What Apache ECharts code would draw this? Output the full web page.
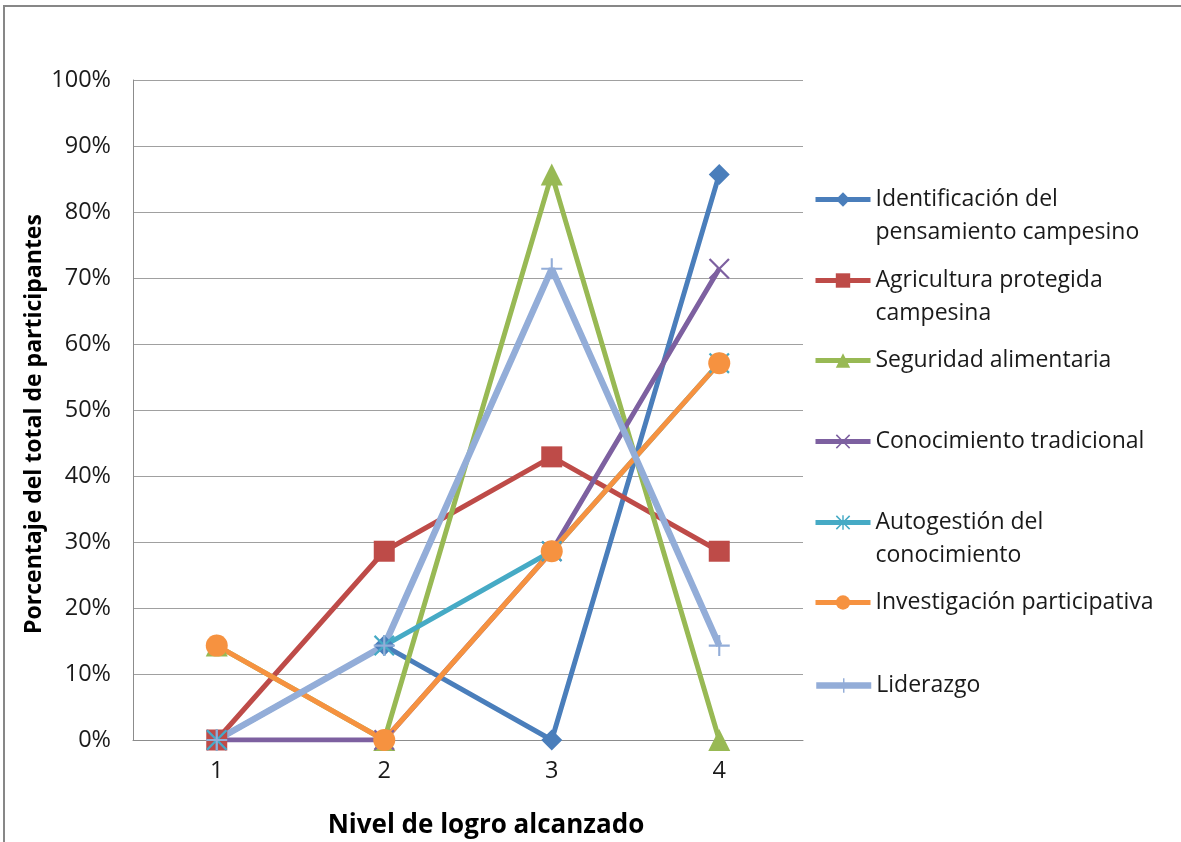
<!DOCTYPE html>
<html><head><meta charset="utf-8">
<script src="https://cdn.jsdelivr.net/npm/echarts@6/dist/echarts.min.js"></script>
<style>html,body{margin:0;padding:0;background:#fff}#c{width:1181px;height:842px}</style>
</head><body><div id="c"></div>
<script>
const categories = ['1', '2', '3', '4'];
const seriesNames = [
  'Identificación del pensamiento campesino',
  'Agricultura protegida campesina',
  'Seguridad alimentaria',
  'Conocimiento tradicional',
  'Autogestión del conocimiento',
  'Investigación participativa',
  'Liderazgo'
];
const legendLabels = [
  'Identificación del\npensamiento campesino',
  'Agricultura protegida\ncampesina',
  'Seguridad alimentaria',
  'Conocimiento tradicional',
  'Autogestión del\nconocimiento',
  'Investigación participativa',
  'Liderazgo'
];
const identificacion = [0, 14.3, 0, 85.7];
const agricultura = [0, 28.6, 42.9, 28.6];
const seguridad = [14.3, 0, 85.7, 0];
const conocimiento = [0, 0, 28.6, 71.4];
const autogestion = [0, 14.3, 28.6, 57.1];
const investigacion = [14.3, 0, 28.6, 57.1];
const liderazgo = [0, 14.3, 71.4, 14.3];
const yTicks = [0, 10, 20, 30, 40, 50, 60, 70, 80, 90, 100];

const allData = [identificacion, agricultura, seguridad, conocimiento, autogestion, investigacion, liderazgo];
const colors = ['#4A7EBB', '#BE4B48', '#98B954', '#7D60A0', '#46AAC5', '#F69240', '#93ADD8'];
const X_PATH = 'path://M0,1.5 L1.5,0 L10,8.5 L18.5,0 L20,1.5 L11.5,10 L20,18.5 L18.5,20 L10,11.5 L1.5,20 L0,18.5 L8.5,10 Z';
const STAR_PATH = X_PATH + ' M9,0 L11,0 L11,20 L9,20 Z';
const PLUS_PATH = 'path://M0,9 L20,9 L20,11 L0,11 Z M9,0 L11,0 L11,20 L9,20 Z';
const symbols = ['diamond', 'rect', 'triangle', X_PATH, STAR_PATH, 'circle', PLUS_PATH];
const symbolSizes = [21, 21, 22, 21, 21, 22, 21];
const widths = [5, 5, 5, 5, 5, 5, 6.5];
const legendY = [200, 281, 361, 442, 523, 603, 686];

const font = '"Open Sans", Lato, sans-serif';
const chart = echarts.init(document.getElementById('c'));

const series = seriesNames.map((n, i) => ({
  name: n,
  type: 'line',
  data: allData[i],
  symbol: symbols[i],
  symbolSize: symbolSizes[i],
  showAllSymbol: true,
  lineStyle: { color: colors[i], width: widths[i] },
  itemStyle: { color: colors[i], borderWidth: 0 },
  emphasis: { disabled: true },
  animation: false
}));

const legends = seriesNames.map((n, i) => {
  const two = legendLabels[i].indexOf('\n') >= 0;
  return {
    data: [n],
    left: 808,
    top: legendY[i] - 5 - (two ? 50 : 17),
    orient: 'vertical',
    itemWidth: 55,
    itemHeight: 18,
    formatter: () => (two ? '\n' : '') + legendLabels[i],
    selectedMode: false,
    lineStyle: { width: widths[i] },
    textStyle: { fontFamily: font, fontSize: 23, color: '#1a1a1a', lineHeight: 33 }
  };
});

chart.setOption({
  animation: false,
  backgroundColor: '#fff',
  color: colors,
  grid: { left: 133, right: 378, top: 80, bottom: 102, containLabel: false, outerBoundsMode: 'none' },
  legend: legends,
  xAxis: {
    type: 'category',
    data: categories,
    boundaryGap: true,
    axisTick: { show: false },
    axisLine: { lineStyle: { color: '#8c8c8c', width: 1 } },
    axisLabel: { margin: 19, fontFamily: font, fontSize: 23.5, color: '#1a1a1a' },
    name: 'Nivel de logro alcanzado',
    nameLocation: 'middle',
    nameGap: 73,
    nameTextStyle: { fontFamily: font, fontSize: 26, fontWeight: 'bold', color: '#000', padding: [0, 0, 0, 36] }
  },
  yAxis: {
    type: 'value',
    min: yTicks[0],
    max: yTicks[yTicks.length - 1],
    interval: 10,
    axisLine: { show: true, lineStyle: { color: '#8c8c8c', width: 1 } },
    axisTick: { show: false },
    splitLine: { lineStyle: { color: '#a0a0a0', width: 1 } },
    axisLabel: { margin: 22, fontFamily: font, fontSize: 23.5, color: '#1a1a1a', formatter: '{value}%' }
  },
  graphic: [
    { type: 'rect', shape: { x: 4, y: 6, width: 1300, height: 1000 }, style: { fill: 'none', stroke: '#878787', lineWidth: 2 }, silent: true, z: -1 },
    { type: 'text', x: 34, y: 424, rotation: Math.PI / 2,
      style: { text: 'Porcentaje del total de participantes', fontFamily: font, fontSize: 23, fontWeight: 'bold', fill: '#000', textAlign: 'center', textVerticalAlign: 'middle' } }
  ],
  series: series
});
</script></body></html>
